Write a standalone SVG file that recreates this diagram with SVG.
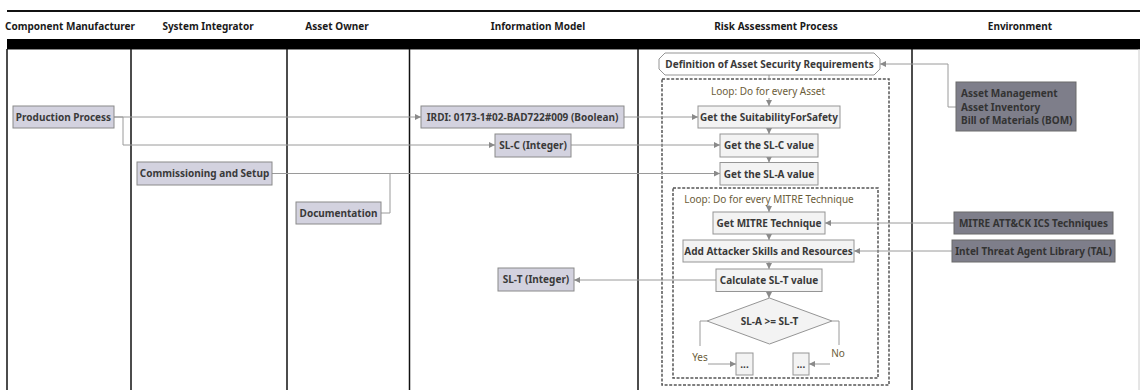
<svg xmlns="http://www.w3.org/2000/svg" width="1140" height="390" viewBox="0 0 1140 390">
  <style>
    text { font-family: "Noto Sans", "Open Sans", "Liberation Sans", sans-serif; font-size: 10px; }
    .hdr { font-weight: bold; fill: #1a1a1a; text-anchor: middle; }
    .lane { stroke: #111; stroke-width: 1.5; }
    .lbl { font-weight: bold; fill: #3a3a3a; text-anchor: middle; }
    .art { fill: #d3d2df; stroke: #8a8a8a; stroke-width: 1; }
    .env { fill: #7e7e8a; stroke: #6a6a6a; stroke-width: 1; }
    .env-t { font-weight: bold; fill: #333; }
    .step { fill: #f3f3f3; stroke: #959595; stroke-width: 1; }
    .loop { fill: none; stroke: #555; stroke-width: 1.5; stroke-dasharray: 3 1.6; }
    .loop-t { fill: #6b5d3a; text-anchor: middle; }
    .conn { fill: none; stroke: #9a9a9a; stroke-width: 1; }
    .flow { fill: none; stroke: #9a9a9a; stroke-width: 1; marker-end: url(#arr); }
  </style>
  <defs>
    <marker id="arr" viewBox="0 0 6 6" refX="6" refY="3" markerWidth="6" markerHeight="6" markerUnits="userSpaceOnUse" orient="auto">
      <path d="M0,0 L6,3 L0,6 z" fill="#8a8a8a"/>
    </marker>
  </defs>

  <rect width="1140" height="390" fill="#ffffff"/>

  <!-- swimlane frame -->
  <g id="lanes">
    <line x1="7" y1="11" x2="1140" y2="11" stroke="#111" stroke-width="2"/>
    <text class="hdr" x="70" y="30">Component Manufacturer</text>
    <text class="hdr" x="208" y="30">System Integrator</text>
    <text class="hdr" x="337" y="30">Asset Owner</text>
    <text class="hdr" x="538" y="30">Information Model</text>
    <text class="hdr" x="776" y="30">Risk Assessment Process</text>
    <text class="hdr" x="1020" y="30">Environment</text>
    <rect x="7" y="39" width="1133" height="10" fill="#000"/>
    <line x1="7" y1="49.5" x2="1140" y2="49.5" stroke="#888" stroke-width="1"/>
    <line class="lane" x1="7" y1="49" x2="7" y2="390"/>
    <line class="lane" x1="131" y1="49" x2="131" y2="390"/>
    <line class="lane" x1="287" y1="49" x2="287" y2="390"/>
    <line class="lane" x1="409.5" y1="49" x2="409.5" y2="390"/>
    <line class="lane" x1="638" y1="49" x2="638" y2="390"/>
    <line class="lane" x1="912" y1="49" x2="912" y2="390"/>
    <line x1="1139" y1="49" x2="1139" y2="390" stroke="#ccc" stroke-width="1"/>
  </g>

  <!-- loop frames -->
  <g id="loop-asset">
    <rect class="loop" x="662" y="79" width="227" height="306"/>
    <text class="loop-t" x="768" y="94.5">Loop: Do for every Asset</text>
  </g>
  <g id="loop-mitre">
    <rect class="loop" x="673" y="188" width="205" height="190"/>
    <text class="loop-t" x="769" y="202.5">Loop: Do for every MITRE Technique</text>
  </g>

  <!-- connectors -->
  <g id="connectors">
    <path class="flow" d="M114,117 H421"/>
    <path class="flow" d="M114,117 H123 V145 H495"/>
    <path class="flow" d="M624,117 H698"/>
    <path class="flow" d="M571,145 H720"/>
    <path class="flow" d="M272,173.5 H720"/>
    <path class="conn" d="M381,213 H390 V173.5"/>
    <path class="flow" d="M956,107 H948 V64 H880"/>
    <path class="flow" d="M954,223 H825"/>
    <path class="flow" d="M952,251 H854"/>
    <path class="flow" d="M716,280 H574"/>
    <path class="conn" d="M769,75 V80"/>
    <path class="flow" d="M769,98 V106"/>
    <path class="flow" d="M769,128 V134"/>
    <path class="flow" d="M769,157 V162.5"/>
    <path class="flow" d="M769,205 V212"/>
    <path class="flow" d="M769,234 V240"/>
    <path class="flow" d="M769,262 V269"/>
    <path class="flow" d="M769,291.5 V298"/>
    <path class="conn" d="M707,321 H700 V346"/>
    <path class="flow" d="M708,364 H736"/>
    <path class="conn" d="M832,321 H839 V345"/>
    <path class="flow" d="M830,364 H809"/>
    <text x="700" y="361" fill="#6b5d3a" text-anchor="middle">Yes</text>
    <text x="838" y="357" fill="#6b5d3a" text-anchor="middle">No</text>
  </g>

  <!-- component manufacturer -->
  <g id="production-process">
    <rect class="art" x="13" y="106" width="101" height="22"/>
    <text class="lbl" x="63.5" y="120.5">Production Process</text>
  </g>

  <!-- system integrator -->
  <g id="commissioning">
    <rect class="art" x="137" y="162" width="135" height="23"/>
    <text class="lbl" x="204.5" y="177">Commissioning and Setup</text>
  </g>

  <!-- asset owner -->
  <g id="documentation">
    <rect class="art" x="296" y="202" width="85" height="22"/>
    <text class="lbl" x="338.5" y="216.5">Documentation</text>
  </g>

  <!-- information model -->
  <g id="irdi">
    <rect class="art" x="421" y="106" width="203" height="22"/>
    <text class="lbl" x="522.5" y="120.5">IRDI: 0173-1#02-BAD722#009 (Boolean)</text>
  </g>
  <g id="slc-int">
    <rect class="art" x="495" y="134" width="76" height="23"/>
    <text class="lbl" x="533" y="149">SL-C (Integer)</text>
  </g>
  <g id="slt-int">
    <rect class="art" x="498" y="268" width="76" height="23"/>
    <text class="lbl" x="536" y="283">SL-T (Integer)</text>
  </g>

  <!-- risk assessment process -->
  <g id="definition">
    <path class="step" fill="#fff" style="fill:#fff" d="M665,53 H874 L880,59 V69 L874,75 H665 L659,69 V59 Z"/>
    <text class="lbl" x="769.5" y="67.5">Definition of Asset Security Requirements</text>
  </g>
  <g id="suitability">
    <rect class="step" x="698" y="106" width="142" height="22"/>
    <text class="lbl" x="769" y="120.5">Get the SuitabilityForSafety</text>
  </g>
  <g id="get-slc">
    <rect class="step" x="720" y="134" width="98" height="23"/>
    <text class="lbl" x="769" y="149">Get the SL-C value</text>
  </g>
  <g id="get-sla">
    <rect class="step" x="720" y="162.5" width="98" height="22.5"/>
    <text class="lbl" x="769" y="177.5">Get the SL-A value</text>
  </g>
  <g id="get-mitre">
    <rect class="step" x="713" y="212" width="112" height="22"/>
    <text class="lbl" x="769" y="226.5">Get MITRE Technique</text>
  </g>
  <g id="attacker">
    <rect class="step" x="683" y="240" width="171" height="22"/>
    <text class="lbl" x="768.5" y="254.5">Add Attacker Skills and Resources</text>
  </g>
  <g id="calc-slt">
    <rect class="step" x="716" y="269" width="106" height="22.5"/>
    <text class="lbl" x="769" y="284">Calculate SL-T value</text>
  </g>
  <g id="decision">
    <polygon class="step" points="769.5,298 832,321 769.5,344 707,321"/>
    <text class="lbl" x="769.5" y="325">SL-A &gt;= SL-T</text>
  </g>
  <g id="yes-branch">
    <rect class="step" x="736" y="353" width="17" height="22"/>
    <text class="lbl" x="744.5" y="368" font-size="9">...</text>
  </g>
  <g id="no-branch">
    <rect class="step" x="793" y="353" width="16" height="22"/>
    <text class="lbl" x="801" y="368" font-size="9">...</text>
  </g>

  <!-- environment -->
  <g id="asset-mgmt">
    <rect class="env" x="956" y="82" width="120" height="49"/>
    <text class="env-t" x="961" y="97">Asset Management</text>
    <text class="env-t" x="961" y="110.5">Asset Inventory</text>
    <text class="env-t" x="961" y="124">Bill of Materials (BOM)</text>
  </g>
  <g id="mitre-attack">
    <rect class="env" x="954" y="212" width="159" height="22"/>
    <text class="env-t" x="1033.5" y="226.5" text-anchor="middle">MITRE ATT&amp;CK ICS Techniques</text>
  </g>
  <g id="tal">
    <rect class="env" x="952" y="240" width="163" height="22"/>
    <text class="env-t" x="1033.5" y="254.5" text-anchor="middle">Intel Threat Agent Library (TAL)</text>
  </g>
</svg>
